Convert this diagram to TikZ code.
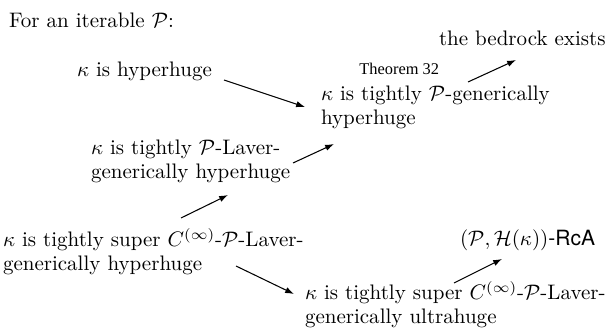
\documentclass[tikz,border=0pt]{standalone}
\usepackage{fontspec}
\setsansfont{TeX Gyre Heros}
\newfontfamily\thmfont{Liberation Serif}
\usetikzlibrary{arrows.meta}
\tikzset{
  txt/.style={anchor=base west, inner sep=0pt, outer sep=0pt, align=left, font=\fontsize{10}{11}\selectfont},
  thm/.style={anchor=base west, inner sep=0pt, font=\thmfont\fontsize{7.8}{9}\selectfont},
  imp/.style={-{Latex[length=4.2pt,width=3pt]}, line width=0.5pt}
}
\begin{document}
\begin{tikzpicture}[x=0.476pt,y=-0.476pt]
\useasboundingbox (0,0) rectangle (609,327);
% single-line nodes: base = baseline; two-line nodes: base = baseline of the last line
\node[txt] (for) at (9,27) {For an iterable $\mathcal{P}$:};
\node[txt] (hyp) at (77,76) {$\kappa$ is hyperhuge};
\node[thm] (thm) at (359,74) {Theorem 32};
\node[txt] (gen) at (321,124) {$\kappa$ is tightly $\mathcal{P}$-generically\\hyperhuge};
\node[txt] (bed) at (439,46) {the bedrock exists};
\node[txt] (lav) at (91,178) {$\kappa$ is tightly $\mathcal{P}$-Laver-\\generically hyperhuge};
\node[txt] (sup1) at (3,270) {$\kappa$ is tightly super $C^{(\infty)}$-$\mathcal{P}$-Laver-\\generically hyperhuge};
\node[txt] (rca) at (460,245) {$(\mathcal{P},\mathcal{H}(\kappa))$\textsf{-RcA}};
\node[txt] (sup2) at (305,323) {$\kappa$ is tightly super $C^{(\infty)}$-$\mathcal{P}$-Laver-\\generically ultrahuge};
\coordinate (a1s) at (224,80); \coordinate (a1e) at (305,107);
\coordinate (a2s) at (468,82); \coordinate (a2e) at (516,60);
\coordinate (a3s) at (293,163); \coordinate (a3e) at (334,144);
\coordinate (a4s) at (181,218); \coordinate (a4e) at (228,195);
\coordinate (a5s) at (236,266); \coordinate (a5e) at (294,294);
\coordinate (a6s) at (454,283); \coordinate (a6e) at (502,259);
\draw[imp] (a1s) -- (a1e);
\draw[imp] (a2s) -- (a2e);
\draw[imp] (a3s) -- (a3e);
\draw[imp] (a4s) -- (a4e);
\draw[imp] (a5s) -- (a5e);
\draw[imp] (a6s) -- (a6e);
\end{tikzpicture}
\end{document}
